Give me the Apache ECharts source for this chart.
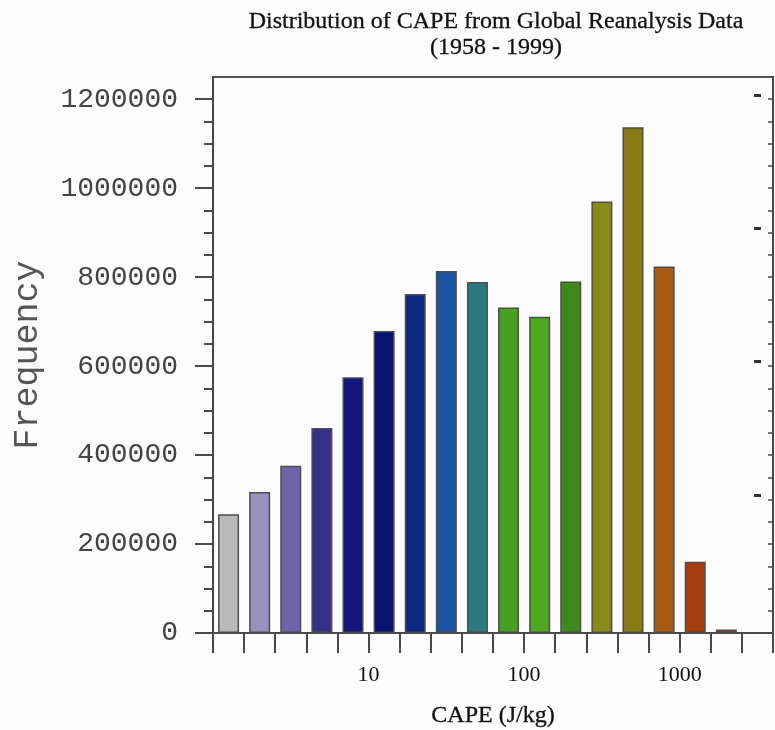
<!DOCTYPE html>
<html>
<head>
<meta charset="utf-8">
<script src="https://cdn.jsdelivr.net/npm/echarts@6/dist/echarts.min.js"></script>
<style>
html,body{margin:0;padding:0;background:#fcfcfc;}
#chart{width:775px;height:730px;}
</style>
</head>
<body>
<div id="chart"></div>
<script>
// CAPE bins (J/kg), lower edges, 5 bins per decade
const binEdges = ['1', '1.6', '2.5', '4', '6.3', '10', '16', '25', '40', '63', '100', '160', '250', '400', '630', '1000', '1600', '2500', '4000'];
const categories = binEdges.slice(0, -1).map((e, i) => e + '-' + binEdges[i + 1]);
const frequency = [267000, 317000, 376000, 461000, 575000, 679000, 762000, 814000, 789000, 732000, 711000, 790000, 970000, 1137000, 824000, 160000, 8000];
const barColors = ['#b9b9b9', '#9992c0', '#7064a9', '#363089', '#13177b', '#07136f', '#0e2881', '#1b54a0', '#2e7980', '#46a021', '#50a821', '#3d8a1b', '#8b8a18', '#8a7a15', '#a85b12', '#a63d0d', '#a8290f'];
const xTickValues = [10, 100, 1000];
const yTickValues = [0, 200000, 400000, 600000, 800000, 1000000, 1200000];
const rightMarkerValues = [310000, 610000, 910000, 1210000];

const binsPerDecade = 5;
const yMax = 1250000;
const minorStep = 50000;
const minorTicks = [];
for (let v = 0; v <= 1200000; v += minorStep) minorTicks.push(v);

const chart = echarts.init(document.getElementById('chart'), null, {renderer: 'canvas'});
const axisColor = '#4a4a4a';

const option = {
  backgroundColor: '#fcfcfc',
  animation: false,
  title: {
    text: 'Distribution of CAPE from Global Reanalysis Data\n(1958 - 1999)',
    left: 496,
    top: 9,
    padding: 0,
    textAlign: 'center',
    textStyle: {
      fontFamily: 'Liberation Serif',
      fontSize: 24,
      fontWeight: 'normal',
      color: '#111',
      lineHeight: 26,
      textBorderColor: '#111',
      textBorderWidth: 0.3
    }
  },
  grid: {
    left: 213, right: 2, top: 77, bottom: 97,
    containLabel: false,
    outerBoundsMode: 'none',
    show: true, borderColor: '#555', borderWidth: 2, backgroundColor: 'transparent'
  },
  xAxis: [
    {
      type: 'category',
      data: categories,
      boundaryGap: true,
      axisLine: {lineStyle: {color: axisColor, width: 2}},
      axisTick: {show: true, interval: 0, length: 20, lineStyle: {color: axisColor, width: 2}},
      axisLabel: {show: false},
      splitLine: {show: false}
    },
    {
      type: 'value',
      position: 'bottom',
      min: 0,
      max: categories.length,
      axisLine: {show: false},
      axisTick: {show: false},
      splitLine: {show: false},
      axisLabel: {
        show: true,
        customValues: xTickValues.map(v => Math.log10(v) * binsPerDecade),
        formatter: v => String(Math.round(Math.pow(10, v / binsPerDecade))),
        margin: 31,
        fontFamily: 'Liberation Serif',
        fontSize: 22,
        color: '#111'
      },
      name: 'CAPE (J/kg)',
      nameLocation: 'middle',
      nameGap: 71,
      nameTextStyle: {fontFamily: 'Liberation Serif', fontSize: 24, color: '#111', textBorderColor: '#111', textBorderWidth: 0.3}
    }
  ],
  yAxis: [
    {
      type: 'value',
      position: 'left',
      min: 0, max: yMax,
      axisLine: {show: true, lineStyle: {color: axisColor, width: 2}},
      axisTick: {show: true, customValues: yTickValues, length: 18, lineStyle: {color: axisColor, width: 2}},
      axisLabel: {
        show: true, customValues: yTickValues, margin: 35,
        formatter: v => String(v),
        fontFamily: 'Liberation Mono', fontSize: 28, color: '#444'
      },
      splitLine: {show: false},
      name: 'Frequency',
      nameLocation: 'middle',
      nameGap: 168,
      nameRotate: 90,
      nameTextStyle: {fontFamily: 'Liberation Mono', fontSize: 35, color: '#555'}
    },
    {
      type: 'value',
      position: 'left',
      min: 0, max: yMax,
      axisLine: {show: false},
      axisTick: {show: true, customValues: minorTicks, length: 9, lineStyle: {color: axisColor, width: 2}},
      axisLabel: {show: false},
      splitLine: {show: false}
    },
    {
      type: 'value',
      position: 'right',
      min: 0, max: yMax,
      axisLine: {show: true, lineStyle: {color: axisColor, width: 2}},
      axisTick: {show: true, inside: true, customValues: minorTicks.slice(1), length: 5, lineStyle: {color: axisColor, width: 1.5}},
      axisLabel: {show: false},
      splitLine: {show: false}
    },
    {
      type: 'value',
      position: 'right',
      offset: -12,
      min: 0, max: yMax,
      axisLine: {show: false},
      axisTick: {show: true, inside: true, customValues: rightMarkerValues, length: 7, lineStyle: {color: '#333', width: 3}},
      axisLabel: {show: false},
      splitLine: {show: false}
    }
  ],
  series: [
    {
      type: 'bar',
      xAxisIndex: 0,
      yAxisIndex: 0,
      barWidth: 21,
      data: frequency.map((v, i) => ({
        value: v,
        itemStyle: {color: barColors[i], borderColor: '#4d4d4d', borderWidth: 1.5}
      }))
    }
  ]
};
chart.setOption(option);
</script>
</body>
</html>
